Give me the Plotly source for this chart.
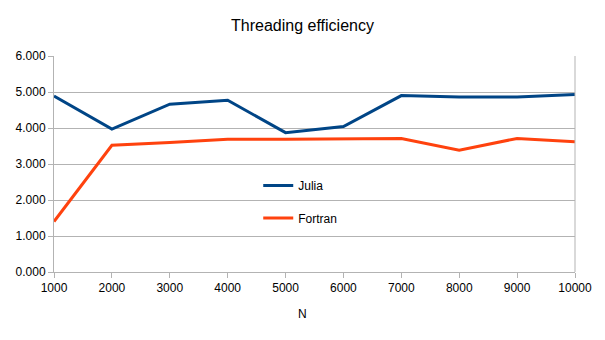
import plotly.graph_objects as go

N = [1000, 2000, 3000, 4000, 5000, 6000, 7000, 8000, 9000, 10000]
julia = [4.89, 3.97, 4.66, 4.77, 3.87, 4.04, 4.90, 4.86, 4.86, 4.93]
fortran = [1.40, 3.52, 3.60, 3.69, 3.69, 3.69, 3.71, 3.38, 3.71, 3.62]

FONT = "Liberation Sans, Arial, sans-serif"

fig = go.Figure()
fig.add_trace(go.Scatter(x=N, y=julia, mode="lines", name="Julia", showlegend=True,
                         line=dict(color="#004586", width=3), legend="legend"))
fig.add_trace(go.Scatter(x=N, y=fortran, mode="lines", name="Fortran", showlegend=True,
                         line=dict(color="#ff420e", width=3), legend="legend2"))

leg_common = dict(xanchor="left", yanchor="middle", bgcolor="rgba(0,0,0,0)",
                  font=dict(family=FONT, size=12, color="#000000"),
                  itemwidth=30, borderwidth=0)

fig.update_layout(
    width=605, height=340,
    showlegend=True,
    margin=dict(l=54, r=30, t=56, b=68),
    paper_bgcolor="white", plot_bgcolor="white",
    font=dict(family=FONT, size=12, color="#000000"),
    title=dict(text="Threading efficiency", x=0.5, xanchor="center",
               y=1 - 25 / 340, yanchor="middle",
               font=dict(family=FONT, size=16, color="#000000")),
    legend=dict(x=0.392, y=0.40, **leg_common),
    legend2=dict(x=0.392, y=0.25, **leg_common),
    xaxis=dict(
        range=[1000, 10000], tickmode="array", tickvals=N,
        ticktext=[str(v) for v in N],
        showgrid=False, showline=True, linecolor="#b3b3b3", linewidth=1,
        mirror=False, ticks="outside", ticklen=5, tickcolor="#b3b3b3",
        tickfont=dict(family=FONT, size=12, color="#000000"),
        zeroline=False,
    ),
    yaxis=dict(
        range=[0, 6], tickmode="linear", tick0=0, dtick=1, tickformat=".3f",
        showgrid=True, gridcolor="#b3b3b3", gridwidth=1,
        showline=True, linecolor="#b3b3b3", linewidth=1,
        ticks="outside", ticklen=5, tickcolor="#b3b3b3",
        tickfont=dict(family=FONT, size=12, color="#000000"),
        zeroline=False,
    ),
)
# x axis title, centred on the page like the reference
fig.add_annotation(text="N", xref="paper", yref="paper",
                   x=(302 - 54) / 521, y=-(314 - 272) / 216,
                   xanchor="center", yanchor="middle", showarrow=False,
                   font=dict(family=FONT, size=12, color="#000000"))
# right border line of plot area
fig.add_shape(type="line", xref="paper", yref="paper", x0=1, x1=1, y0=0, y1=1,
              line=dict(color="#b3b3b3", width=1))

fig.write_html("out.html")
